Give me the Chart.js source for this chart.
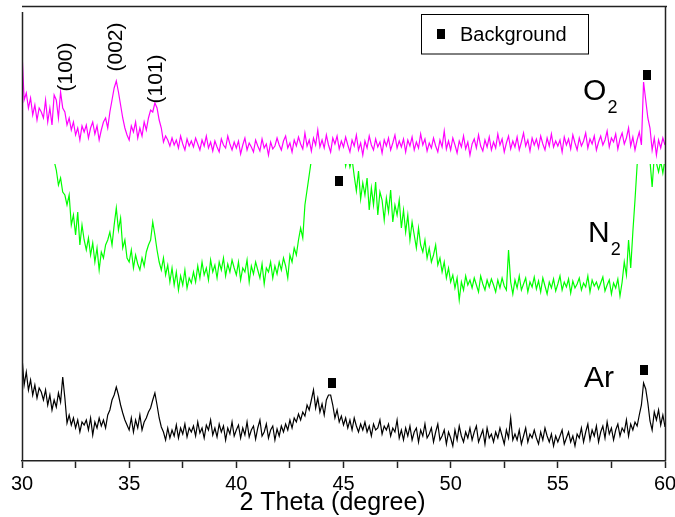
<!DOCTYPE html>
<html>
<head>
<meta charset="utf-8">
<script src="https://cdn.jsdelivr.net/npm/chart.js@4/dist/chart.umd.min.js"></script>
<style>
  html, body { margin: 0; padding: 0; background: #ffffff; }
  #wrap { width: 675px; height: 517px; position: relative; }
</style>
</head>
<body>
<div id="wrap"><canvas id="xrd"></canvas></div>
<script>
// Step scan: 2-theta from 30 to 60 degrees in 0.1 degree steps
const scanStart = 30.0;
const scanStep = 0.1;

// Intensities (arb. units, offset per pattern)
const o2Counts = [
  409,361,368,353,363,346,356,341,353,349,
  343,361,339,353,336,366,361,343,369,353,
  349,336,343,331,339,326,333,321,335,329,
  336,323,333,339,327,335,321,331,339,343,
  333,349,361,373,380,369,356,343,333,326,
  321,335,329,339,323,333,325,339,331,343,
  351,349,358,353,341,333,319,325,321,315,
  323,316,321,313,325,317,311,322,315,320,
  314,323,317,311,321,315,325,313,319,310,
  320,314,309,322,316,313,325,317,311,319,
  313,320,307,316,323,311,318,314,309,321,
  315,310,322,313,317,306,319,312,315,323,
  316,311,320,325,313,318,309,321,315,324,
  317,312,328,315,321,310,323,316,331,314,
  321,313,326,316,309,323,317,325,312,320,
  314,324,316,309,321,315,326,311,318,306,
  320,313,325,316,311,322,314,319,308,321,
  315,323,311,318,326,313,320,314,322,309,
  321,315,324,311,319,313,327,316,322,310,
  318,313,323,315,309,321,314,330,312,320,
  311,323,316,308,320,314,325,312,319,306,
  317,322,313,326,315,310,321,314,324,311,
  319,313,327,316,322,309,318,325,312,320,
  314,324,311,319,328,315,321,310,323,316,
  322,313,325,317,311,323,315,327,314,320,
  315,321,309,324,316,322,312,326,318,311,
  323,315,320,328,313,322,317,325,311,319,
  325,316,321,330,314,323,319,327,312,322,
  328,317,323,333,315,324,311,321,329,316,
  379,361,343,333,311,323,306,321,313,323,
  316
];

const n2Counts = [
  420,410,400,395,385,378,370,360,352,345,
  338,330,322,315,308,300,291,276,283,269,
  266,256,266,236,246,226,249,216,236,221,
  211,223,206,218,199,213,191,209,203,216,
  221,229,216,236,253,231,243,213,221,203,
  199,211,193,206,197,191,203,195,209,216,
  221,239,226,211,199,191,203,186,196,179,
  193,176,189,171,185,176,191,173,183,178,
  189,179,195,183,199,186,193,181,201,189,
  196,183,199,191,203,185,197,189,201,193,
  186,199,181,193,189,201,179,195,187,199,
  191,183,197,177,193,189,199,183,195,187,
  199,191,203,195,183,206,199,213,206,221,
  233,223,256,271,286,301,311,321,326,331,
  340,345,350,348,352,345,340,335,330,325,
  310,295,305,294,302,285,270,290,262,278,
  266,283,251,273,256,279,246,269,261,241,
  263,249,271,239,256,246,261,233,251,229,
  246,221,239,226,213,233,216,209,221,203,
  213,199,206,216,196,203,189,199,183,193,
  179,186,173,183,161,179,171,185,176,181,
  173,183,176,169,185,177,171,181,174,182,
  176,169,181,173,183,175,171,211,179,167,
  181,173,185,171,177,183,169,179,174,184,
  172,180,169,183,175,167,179,173,182,170,
  177,185,171,179,174,182,168,180,173,177,
  183,171,178,174,185,169,181,175,179,172,
  178,184,170,176,181,167,178,173,182,165,
  179,199,186,221,193,229,261,296,316,326,
  330,320,310,300,274,305,298,289,300,288,
  302
];

const arCounts = [
  104,76,89,71,81,66,76,63,73,69,
  61,71,56,66,51,61,54,68,59,84,
  63,38,46,36,43,33,41,29,39,36,
  41,31,43,26,39,33,43,35,41,33,
  46,51,61,66,74,66,56,48,41,36,
  31,43,29,41,33,46,31,39,43,49,
  53,61,68,56,43,34,29,21,33,23,
  31,25,36,23,33,27,37,24,33,29,
  35,25,39,28,33,23,36,31,41,26,
  33,24,37,29,35,21,33,27,39,25,
  31,36,23,33,26,39,24,31,35,22,
  33,41,25,29,37,23,31,35,21,32,
  25,35,29,37,31,41,33,43,39,47,
  41,49,45,56,51,61,71,53,63,49,
  57,46,61,66,66,56,43,51,39,45,
  36,43,33,41,31,43,35,29,37,31,
  39,29,35,25,37,31,33,41,27,35,
  31,37,25,33,29,41,23,31,21,33,
  25,35,21,29,33,19,31,25,37,23,
  27,33,19,29,37,21,25,31,17,29,
  23,15,31,21,35,25,19,29,23,33,
  21,29,35,19,25,31,17,33,23,27,
  19,29,23,33,25,17,31,23,43,21,
  27,21,31,17,25,33,19,27,23,31,
  23,17,29,21,33,25,19,27,15,25,
  19,25,31,17,23,29,19,25,15,27,
  23,33,19,29,37,21,31,25,35,19,
  29,35,23,39,27,33,21,31,37,25,
  33,29,41,25,37,31,39,35,46,56,
  78,72,58,40,31,49,41,51,36,46,
  34
];

// Background reflections (square markers)
const bgAngles = [59.15, 44.78, 44.45, 59.04];
const bgCounts = [386, 280, 78, 91];

// Upper display limit of the N2 trace (its off-scale parts are cut)
const n2DisplayMax = 297;

// Axis ticks
const xMin = 30, xMax = 60, xMinorStep = 2.5, xMajorStep = 5;
const yMin = 0, yMax = 455;

// Peak labels: text, 2-theta, height
const peakLabels = ['(100)', '(002)', '(101)'];
const peakAngles = [32.07, 34.40, 36.27];
const peakHeights = [394, 414, 382];

// Pattern names: base text, subscript, 2-theta, height
const patternNames = ['O', 'N', 'Ar'];
const patternSubs = ['2', '2', ''];
const patternAngles = [56.18, 56.41, 56.22];
const patternHeights = [361, 219, 74];

const twoTheta = o2Counts.map((_, i) => +(scanStart + i * scanStep).toFixed(1));
const toXY = arr => arr.map((v, i) => ({ x: twoTheta[i], y: v }));

const FONT = '"Liberation Sans", Arial, Helvetica, sans-serif';

// Black rectangular marker used for background reflections
const markerImg = document.createElement('canvas');
markerImg.width = 8; markerImg.height = 10;
(function () {
  const m = markerImg.getContext('2d');
  m.fillStyle = '#000';
  m.fillRect(0, 0, 8, 10);
})();

const n2Clip = {
  id: 'n2Clip',
  beforeDatasetDraw(chart, args) {
    if (chart.data.datasets[args.index].label !== 'N2') return;
    const { ctx, chartArea } = chart;
    const yCut = chart.scales.y.getPixelForValue(n2DisplayMax);
    ctx.save();
    ctx.beginPath();
    ctx.rect(chartArea.left, yCut, chartArea.right - chartArea.left, chartArea.bottom - yCut);
    ctx.clip();
  },
  afterDatasetDraw(chart, args) {
    if (chart.data.datasets[args.index].label !== 'N2') return;
    chart.ctx.restore();
  }
};

const decorations = {
  id: 'decorations',
  afterDraw(chart) {
    const { ctx, chartArea: a, scales } = chart;
    const sx = scales.x, sy = scales.y;
    ctx.save();

    // frame: top, left and right edges
    ctx.strokeStyle = '#222';
    ctx.lineWidth = 1.5;
    ctx.beginPath();
    ctx.moveTo(a.left, a.top + 0.5);
    ctx.lineTo(a.right + 2, a.top + 0.5);
    ctx.moveTo(a.left + 0.5, a.top + 6);
    ctx.lineTo(a.left + 0.5, a.bottom);
    ctx.moveTo(a.right + 0.5, a.top);
    ctx.lineTo(a.right + 0.5, a.bottom);
    ctx.stroke();

    // peak indices, rotated
    ctx.fillStyle = '#000';
    ctx.font = '21px ' + FONT;
    ctx.textAlign = 'center';
    ctx.textBaseline = 'middle';
    peakLabels.forEach((t, i) => {
      ctx.save();
      ctx.translate(sx.getPixelForValue(peakAngles[i]), sy.getPixelForValue(peakHeights[i]));
      ctx.rotate(-Math.PI / 2);
      ctx.fillText(t, 0, 0);
      ctx.restore();
    });

    // pattern names with subscripts
    ctx.textAlign = 'left';
    ctx.textBaseline = 'alphabetic';
    patternNames.forEach((t, i) => {
      const px = sx.getPixelForValue(patternAngles[i]);
      const py = sy.getPixelForValue(patternHeights[i]);
      ctx.font = '30px ' + FONT;
      ctx.fillText(t, px, py);
      const w = ctx.measureText(t).width;
      if (patternSubs[i]) {
        ctx.font = '18px ' + FONT;
        ctx.fillText(patternSubs[i], px + w + 1, py + 13);
      }
    });

    // legend box
    const lx = a.left + 399.5, ly = a.top + 8.5, lw = 167, lh = 39.5;
    ctx.lineWidth = 1;
    ctx.strokeStyle = '#000';
    ctx.strokeRect(lx, ly, lw, lh);
    ctx.drawImage(markerImg, lx + 15, ly + 14);
    ctx.font = '20px ' + FONT;
    ctx.fillText('Background', lx + 38.5, ly + 26);

    // x axis title
    ctx.textAlign = 'center';
    ctx.font = '25px ' + FONT;
    ctx.fillText('2 Theta (degree)', (a.left + a.right) / 2 - 11, 510);

    ctx.restore();
  }
};

new Chart(document.getElementById('xrd'), {
  type: 'line',
  data: {
    datasets: [
      {
        label: 'Background',
        type: 'scatter',
        data: bgAngles.map((x, i) => ({ x, y: bgCounts[i] })),
        pointStyle: markerImg,
        pointRadius: 5,
        showLine: false
      },
      {
        label: 'O2',
        data: toXY(o2Counts),
        borderColor: '#ff00ff',
        borderWidth: 1.2,
        pointRadius: 0,
        tension: 0
      },
      {
        label: 'N2',
        data: toXY(n2Counts),
        borderColor: '#00ff00',
        borderWidth: 1.2,
        pointRadius: 0,
        tension: 0
      },
      {
        label: 'Ar',
        data: toXY(arCounts),
        borderColor: '#000000',
        borderWidth: 1.2,
        pointRadius: 0,
        tension: 0
      }
    ]
  },
  options: {
    responsive: true,
    maintainAspectRatio: false,
    animation: false,
    events: [],
    layout: { padding: { left: 22, right: 10, top: 6, bottom: 0 } },
    plugins: {
      legend: { display: false },
      tooltip: { enabled: false },
      title: { display: false }
    },
    scales: {
      x: {
        type: 'linear',
        min: xMin,
        max: xMax,
        grid: {
          drawOnChartArea: false,
          drawTicks: true,
          tickLength: 7,
          tickWidth: 1.5,
          tickColor: '#222'
        },
        border: { display: true, color: '#222', width: 1.5 },
        ticks: {
          stepSize: xMinorStep,
          autoSkip: false,
          maxRotation: 0,
          padding: 4,
          color: '#000',
          font: { family: FONT, size: 20 },
          callback: v => (v % xMajorStep === 0 ? String(v) : '')
        },
        afterFit(scale) {
          scale.height = 56;
          scale.paddingLeft = 0;
          scale.paddingRight = 0;
        }
      },
      y: {
        display: false,
        min: yMin,
        max: yMax
      }
    }
  },
  plugins: [n2Clip, decorations]
});
</script>
</body>
</html>
